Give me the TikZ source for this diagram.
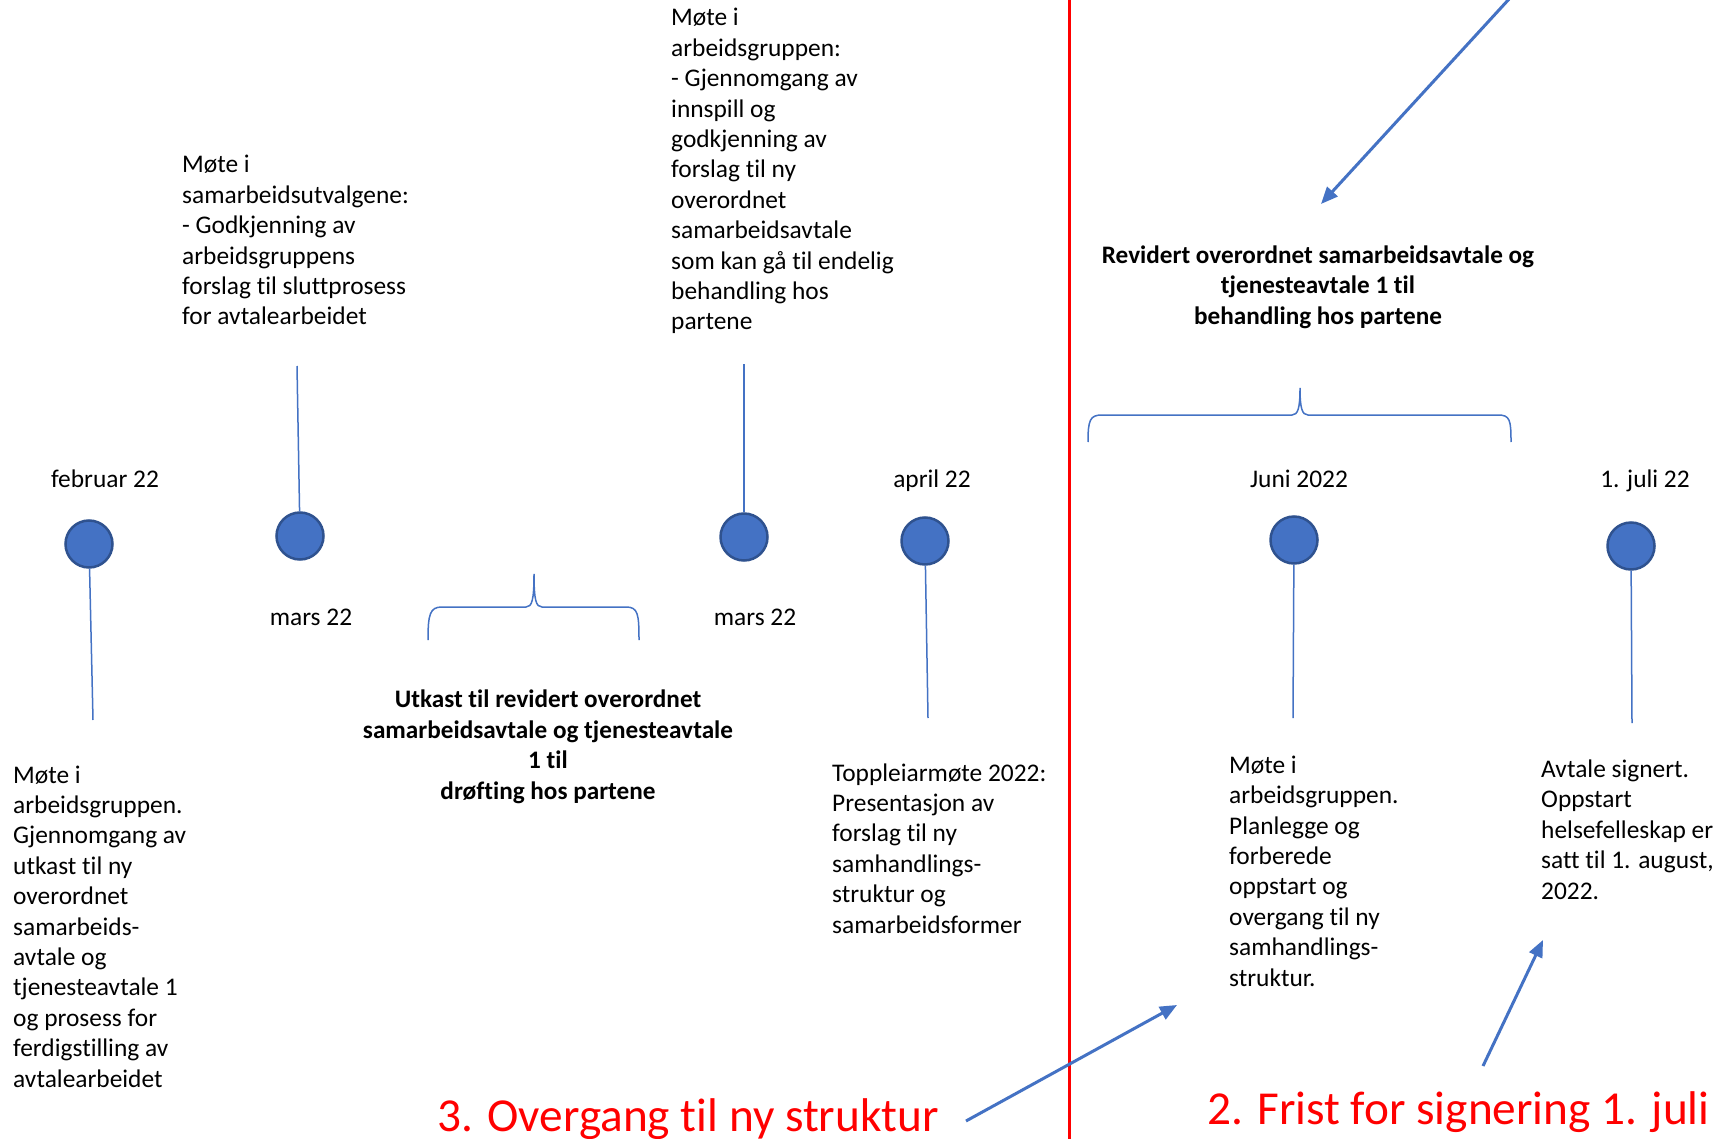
\documentclass[tikz,border=0pt]{standalone}
\usepackage{fontspec}
\setmainfont{Carlito}[Ligatures={NoCommon}]
\usetikzlibrary{arrows.meta,backgrounds}
\definecolor{ublue}{HTML}{4472C4}
\definecolor{udark}{HTML}{2F528F}
\definecolor{ured}{HTML}{FF0000}
\begin{document}
\begin{tikzpicture}[x=1pt,y=-1pt,
  dot/.style={circle,fill=ublue,draw=udark,line width=2.5pt,minimum size=47pt,inner sep=0pt},
  stem/.style={draw=ublue,line width=1.5pt},
  body/.style={font=\fontsize{25.4}{30.4}\selectfont,inner sep=0pt,align=left,anchor=base west},
  bold/.style={font=\fontsize{25.2}{30.4}\selectfont\bfseries,inner sep=0pt,align=center,anchor=base},
  datelbl/.style={font=\fontsize{25.4}{30.4}\selectfont,inner sep=0pt,anchor=base},
  redtxt/.style={font=\fontsize{47.3}{56}\selectfont,text=ured,inner sep=0pt,anchor=base west},
  bluearrow/.style={draw=ublue,line width=3pt,-{Triangle[length=17pt,width=14pt]}},
  brace/.style={draw=ublue,line width=1.5pt}]
\useasboundingbox (0,0) rectangle (1731,1139);
\fill[white] (0,0) rectangle (1731,1139);

% circles
\node[dot] (c1) at (89,544) {};
\node[dot] (c2) at (300,536) {};
\node[dot] (c3) at (744,537) {};
\node[dot] (c4) at (925,541) {};
\node[dot] (c5) at (1294,540) {};
\node[dot] (c6) at (1631,546) {};

\begin{scope}[on background layer]
\draw[stem] (c1.center) -- (c6.center);
\end{scope}

% stems
\coordinate (s1) at (93,720);
\coordinate (s2) at (297,366);
\coordinate (s3) at (744,364);
\coordinate (s4) at (928,718);
\coordinate (s5) at (1293,718);
\coordinate (s6) at (1632,723);
\draw[stem] (c1) -- (s1);
\draw[stem] (s2) -- (c2);
\draw[stem] (s3) -- (c3);
\draw[stem] (c4) -- (s4);
\draw[stem] (c5) -- (s5);
\draw[stem] (c6) -- (s6);

% date labels
\node[datelbl] (d1) at (105,487) {februar 22};
\node[datelbl] (d2) at (311,625) {mars 22};
\node[datelbl] (d3) at (755,625) {mars 22};
\node[datelbl] (d4) at (932,487) {april 22};
\node[datelbl] (d5) at (1299,487) {Juni 2022};
\node[datelbl] (d6) at (1645,487) {1. juli 22};

% text blocks (anchored at the baseline of the last line)
\node[body] (t2) at (182,325) {Møte i\\samarbeidsutvalgene:\\- Godkjenning av\\arbeidsgruppens\\forslag til sluttprosess\\for avtalearbeidet};
\node[body] (t3) at (671,330) {Møte i\\arbeidsgruppen:\\- Gjennomgang av\\innspill og\\godkjenning av\\forslag til ny\\overordnet\\samarbeidsavtale\\som kan gå til endelig\\behandling hos\\partene};
\node[body] (t1) at (13,1087) {Møte i\\arbeidsgruppen.\\Gjennomgang av\\utkast til ny\\overordnet\\samarbeids-\\avtale og\\tjenesteavtale 1\\og prosess for\\ferdigstilling av\\avtalearbeidet};
\node[body] (t4) at (832,933) {Toppleiarmøte 2022:\\Presentasjon av\\forslag til ny\\samhandlings-\\struktur og\\samarbeidsformer};
\node[body] (t5) at (1229,986) {Møte i\\arbeidsgruppen.\\Planlegge og\\forberede\\oppstart og\\overgang til ny\\samhandlings-\\struktur.};
\node[body] (t6) at (1541,899) {Avtale signert.\\Oppstart\\helsefelleskap er\\satt til 1. august,\\2022.};

\node[bold] (bm) at (548,799) {Utkast til revidert overordnet\\samarbeidsavtale og tjenesteavtale\\1 til\\drøfting hos partene};
\node[bold] (br) at (1318,324) {Revidert overordnet samarbeidsavtale og\\tjenesteavtale 1 til\\behandling hos partene};

% braces
\draw[brace] (428,640) .. controls (428,614) and (430,607) .. (442,607) -- (526,607)
  .. controls (532,607) and (534,600) .. (534,574)
  .. controls (534,600) and (536,607) .. (542,607) -- (626,607)
  .. controls (638,607) and (639,614) .. (639,640);
\draw[brace] (1088,442) .. controls (1088,420) and (1090,415) .. (1102,415) -- (1292,415)
  .. controls (1298,415) and (1300,408) .. (1300,388)
  .. controls (1300,408) and (1302,415) .. (1308,415) -- (1498,415)
  .. controls (1510,415) and (1511,420) .. (1511,442);

% red line
\coordinate (rtop) at (1069,0);
\coordinate (rbot) at (1069,1139);
\draw[ured,line width=3pt] (rtop) -- (rbot);

% red texts
\node[redtxt] (r3) at (437,1131) {3. Overgang til ny struktur};
\node[redtxt] (r2) at (1207,1124) {2. Frist for signering 1. juli};

% arrows
\coordinate (a1s) at (1510,-2);
\coordinate (a1e) at (1321,204);
\draw[bluearrow] (a1s) -- (a1e);
\coordinate (a3s) at (966,1121);
\coordinate (a3e) at (1177,1005);
\draw[bluearrow] (a3s) -- (a3e);
\coordinate (a2s) at (1483,1066);
\coordinate (a2e) at (1543,940);
\draw[bluearrow] (a2s) -- (a2e);
\end{tikzpicture}
\end{document}
